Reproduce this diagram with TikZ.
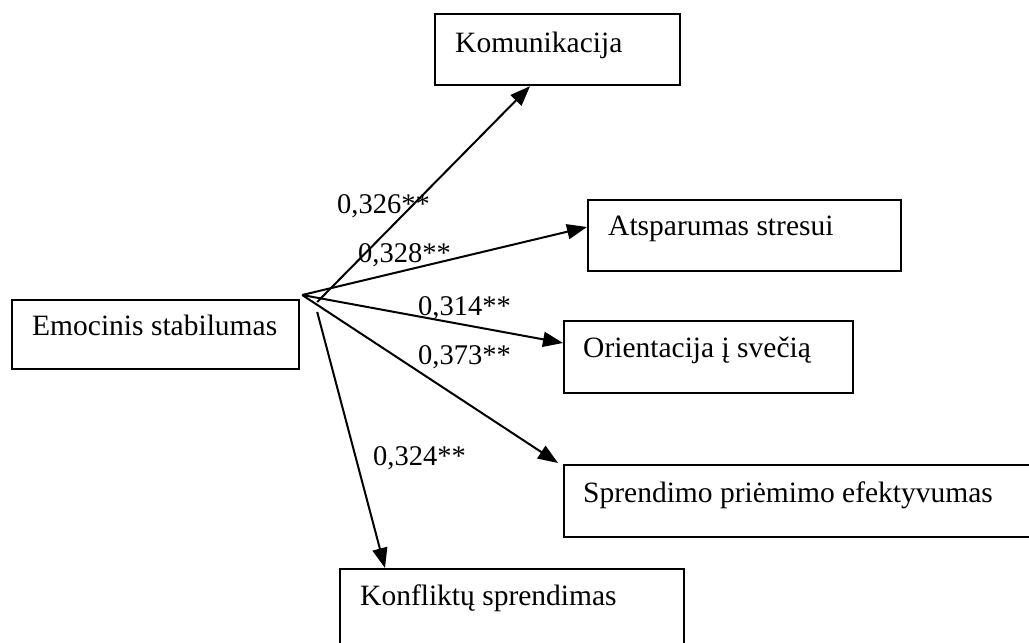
\documentclass[tikz,border=0pt]{standalone}
\usepackage{fontspec}
\setmainfont{Liberation Serif}
\usetikzlibrary{arrows.meta,calc}
\begin{document}
\begin{tikzpicture}[x=1pt,y=-1pt,
  box/.style={draw=black,line width=2.2pt,rectangle,inner sep=0pt,anchor=north west},
  txt/.style={anchor=base west,inner sep=0pt,font=\fontsize{29.5}{34}\selectfont},
  lab/.style={anchor=base west,inner sep=0pt,font=\fontsize{28.5}{34}\selectfont},
  conn/.style={line width=2pt,-{Triangle[length=20pt,width=15pt]}}]
\useasboundingbox (0,0) rectangle (1029,643);
% boxes
\node[box,minimum width=287pt,minimum height=69pt] (emo) at (11,299) {};
\node[box,minimum width=245pt,minimum height=71pt] (kom) at (434,13) {};
\node[box,minimum width=313pt,minimum height=71pt] (ats) at (587,199) {};
\node[box,minimum width=289pt,minimum height=72pt] (ori) at (563,320) {};
\node[box,minimum width=480pt,minimum height=72pt] (spr) at (563,464) {};
\node[box,minimum width=344pt,minimum height=90pt] (kon) at (339,568) {};
% texts
\node[txt] (temo) at (32,335) {Emocinis stabilumas};
\node[txt] (tkom) at (455,52) {Komunikacija};
\node[txt] (tats) at (608,235) {Atsparumas stresui};
\node[txt] (tori) at (583,357) {Orientacija į svečią};
\node[txt] (tspr) at (583,502) {Sprendimo priėmimo efektyvumas};
\node[txt] (tkon) at (360,605) {Konfliktų sprendimas};
% connectors
\coordinate (o) at ($(emo.north east)+(2,-4)$);
\coordinate (ok) at ($(emo.north east)+(17,3)$);
\coordinate (of) at ($(emo.north east)+(17,13)$);
\draw[conn] (ok) -- ($(kom.south west)+(96,0)$);
\draw[conn] (o) -- ($(ats.north west)+(0,28)$);
\draw[conn] (o) -- ($(ori.north west)+(0,23)$);
\draw[conn] (o) -- ($(spr.north west)+(-5,-1)$);
\draw[conn] (of) -- ($(kon.north west)+(46,0)$);
% labels
\node[lab] (l1) at (337,213) {0,326**};
\node[lab] (l2) at (358,262) {0,328**};
\node[lab] (l3) at (418,315) {0,314**};
\node[lab] (l4) at (418,364) {0,373**};
\node[lab] (l5) at (373,465) {0,324**};
\end{tikzpicture}
\end{document}
